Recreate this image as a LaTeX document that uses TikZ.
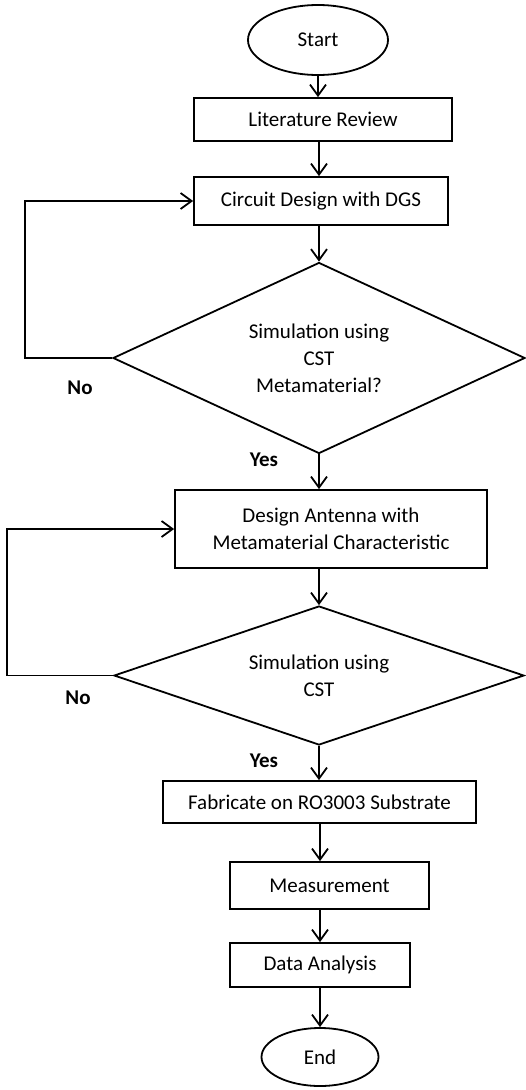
\documentclass[tikz,border=0pt]{standalone}
\usepackage{fontspec}
\setmainfont{Carlito}
\usetikzlibrary{shapes.geometric, arrows.meta}

\begin{document}
\begin{tikzpicture}[
    x=1pt, y=-1pt,
    font=\fontsize{21}{27}\selectfont,
    term/.style={ellipse, draw, line width=1.8pt, inner sep=0pt},
    proc/.style={rectangle, draw, line width=1.8pt, inner sep=0pt, align=center},
    deci/.style={diamond, draw, line width=1.8pt, inner sep=0pt, aspect=2.2, align=center},
    arr/.style={-{Straight Barb[length=11pt, width=16pt]}, line width=1.8pt},
    lbl/.style={font=\fontsize{21}{27}\selectfont\bfseries}
]
  \useasboundingbox (0,0) rectangle (526,1090);

  % Start / End
  \node[term, minimum width=140pt, minimum height=70pt] (start) at (318, 40) {Start};
  \node[term, minimum width=117pt, minimum height=58pt] (stop) at (320, 1057) {End};

  % Steps
  \node[proc, minimum width=258pt, minimum height=43pt] (lit) at (323, 119.5) {Literature Review};
  \node[proc, minimum width=254pt, minimum height=48pt] (cdgs) at (321, 201) {Circuit Design with DGS};
  \node[proc, minimum width=312pt, minimum height=78pt] (ant) at (331, 529) {Design Antenna with\\Metamaterial Characteristic};
  \node[proc, minimum width=313pt, minimum height=42pt] (fab) at (319.5, 802) {Fabricate on RO3003 Substrate};
  \node[proc, minimum width=199pt, minimum height=47pt] (meas) at (329.5, 885.5) {Measurement};
  \node[proc, minimum width=180pt, minimum height=44pt] (data) at (320, 965) {Data Analysis};

  % Decisions
  \node[deci, minimum width=412pt, minimum height=191pt] (sim1) at (319, 358) {Simulation using\\CST\\Metamaterial?};
  \node[deci, minimum width=410pt, minimum height=139pt] (sim2) at (319, 675.5) {Simulation using\\CST};

  % Yes / No
  \node[lbl] (no1) at (80, 388) {No};
  \node[lbl] (yes1) at (264, 460) {Yes};
  \node[lbl] (no2) at (78, 698) {No};
  \node[lbl] (yes2) at (264, 761) {Yes};

  % Connectors
  \draw[arr] (start) -- (start |- lit.north);
  \draw[arr] (lit.south -| sim1) -- (sim1 |- cdgs.north);
  \draw[arr] (cdgs.south -| sim1) -- (sim1.north);
  \draw[arr] (sim1.south) -- (sim1.south |- ant.north);
  \draw[arr] (ant.south -| sim2) -- (sim2.north);
  \draw[arr] (sim2.south) -- (sim2.south |- fab.north);
  \draw[arr] (fab.south -| data) -- (data |- meas.north);
  \draw[arr] (meas.south -| data) -- (data.north);
  \draw[arr] (data.south) -- (stop);

  % Loops back
  \draw[arr] (sim1.west) -- ++(-87, 0) |- (cdgs.west);
  \draw[arr] (sim2.west) -- ++(-106, 0) |- (ant.west);
\end{tikzpicture}
\end{document}
